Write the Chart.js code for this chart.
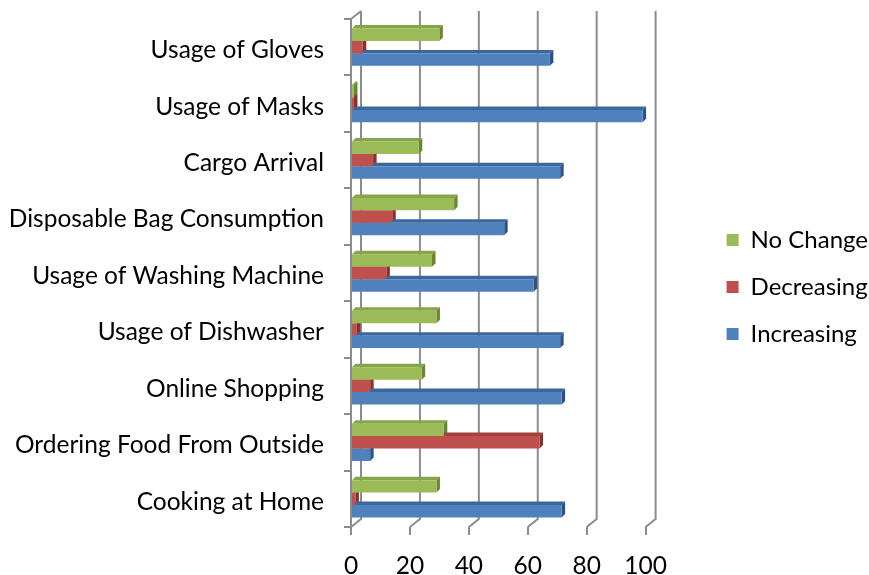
<!DOCTYPE html>
<html>
<head>
<meta charset="utf-8">
<script src="https://cdn.jsdelivr.net/npm/chart.js@4.4.1/dist/chart.umd.min.js"></script>
<style>
  html, body { margin: 0; padding: 0; background: #fff; }
  #wrap { width: 869px; height: 575px; }
</style>
</head>
<body>
<div id="wrap"><canvas id="barChart"></canvas></div>
<script>
const categories = [
  'Usage of Gloves',
  'Usage of Masks',
  'Cargo Arrival',
  'Disposable Bag Consumption',
  'Usage of Washing Machine',
  'Usage of Dishwasher',
  'Online Shopping',
  'Ordering Food From Outside',
  'Cooking at Home'
];
const noChange   = [30, 1, 23, 35, 27.5, 29, 24, 31.5, 29];
const decreasing = [4, 1, 7.5, 14, 12, 2, 6.5, 64, 1.5];
const increasing = [67.5, 99, 71, 52, 62, 71, 71.5, 6.5, 71.5];
const xTicks = [0, 20, 40, 60, 80, 100];

const gridColor = '#8c8c8c';
const labelFont = { family: 'Lato', size: 24.5 };

// back wall + 3d faces on the bars
const depthPlugin = {
  id: 'depth',
  beforeDatasetsDraw(chart) {
    const ctx = chart.ctx;
    const xs = chart.scales.x;
    const area = chart.chartArea;
    const wx = 10, wy = -8;
    ctx.save();
    ctx.strokeStyle = gridColor;
    ctx.lineWidth = 2;
    ctx.beginPath();
    ctx.moveTo(area.left, area.top);
    ctx.lineTo(area.left + wx, area.top + wy);
    ctx.stroke();
    xs.ticks.forEach(t => {
      const px = xs.getPixelForValue(t.value);
      ctx.beginPath();
      ctx.moveTo(px + wx, area.top + wy);
      ctx.lineTo(px + wx, area.bottom + wy);
      ctx.lineTo(px, area.bottom);
      ctx.stroke();
    });

    const d = 3.5;
    chart.data.datasets.forEach((ds, i) => {
      chart.getDatasetMeta(i).data.forEach(bar => {
        const p = bar.getProps(['x', 'y', 'base', 'height'], true);
        const top = p.y - p.height / 2, bot = p.y + p.height / 2;
        ctx.fillStyle = ds.topColor;
        ctx.beginPath();
        ctx.moveTo(p.base, top);
        ctx.lineTo(p.x, top);
        ctx.lineTo(p.x + d, top - d);
        ctx.lineTo(p.base + d, top - d);
        ctx.closePath();
        ctx.fill();
        ctx.fillStyle = ds.sideColor;
        ctx.beginPath();
        ctx.moveTo(p.x, top);
        ctx.lineTo(p.x + d, top - d);
        ctx.lineTo(p.x + d, bot - d);
        ctx.lineTo(p.x, bot);
        ctx.closePath();
        ctx.fill();
      });
    });
    ctx.restore();
  }
};

const ctx = document.getElementById('barChart').getContext('2d');
new Chart(ctx, {
  type: 'bar',
  data: {
    labels: categories,
    datasets: [
      { label: 'No Change',  data: noChange,   backgroundColor: '#9bbb59', topColor: '#86a44a', sideColor: '#6a8633' },
      { label: 'Decreasing', data: decreasing, backgroundColor: '#c0504d', topColor: '#a5403d', sideColor: '#8a2f2c' },
      { label: 'Increasing', data: increasing, backgroundColor: '#4f81bd', topColor: '#3b679d', sideColor: '#2c5385' }
    ]
  },
  options: {
    indexAxis: 'y',
    responsive: true,
    maintainAspectRatio: false,
    animation: false,
    devicePixelRatio: 1,
    categoryPercentage: 0.66,
    barPercentage: 1,
    layout: { padding: { top: 19, right: -9, left: 0, bottom: 0 } },
    plugins: {
      tooltip: { enabled: false },
      legend: {
        position: 'right',
        fullSize: false,
        maxWidth: 220,
        // empty title only pushes the items down a little
        title: { display: true, text: '', padding: 2, font: { size: 20 } },
        labels: { boxWidth: 12, boxHeight: 12, padding: 23, color: '#000', font: { family: 'Lato', size: 24 } }
      }
    },
    scales: {
      x: {
        min: 0,
        max: 100,
        afterBuildTicks(s) { s.ticks = xTicks.map(v => ({ value: v })); },
        afterFit(s) { s.height = 48; },
        border: { display: false },
        grid: { drawOnChartArea: false, tickLength: 8, color: gridColor, lineWidth: 2 },
        ticks: { color: '#000', font: labelFont, padding: 16 }
      },
      y: {
        afterFit(s) { s.width = 351; s.paddingTop = 0; s.paddingBottom = 0; },
        border: { color: gridColor, width: 2 },
        grid: { drawOnChartArea: false, offset: true, tickLength: 7, color: gridColor, lineWidth: 2 },
        ticks: { color: '#000', font: labelFont, padding: 20, labelOffset: 3 }
      },
      yGap: {
        type: 'linear',
        position: 'right',
        afterFit(s) { s.width = 58; s.paddingTop = 0; s.paddingBottom = 0; },
        border: { display: false },
        grid: { display: false },
        ticks: { display: false }
      }
    }
  },
  plugins: [depthPlugin]
});
</script>
</body>
</html>
